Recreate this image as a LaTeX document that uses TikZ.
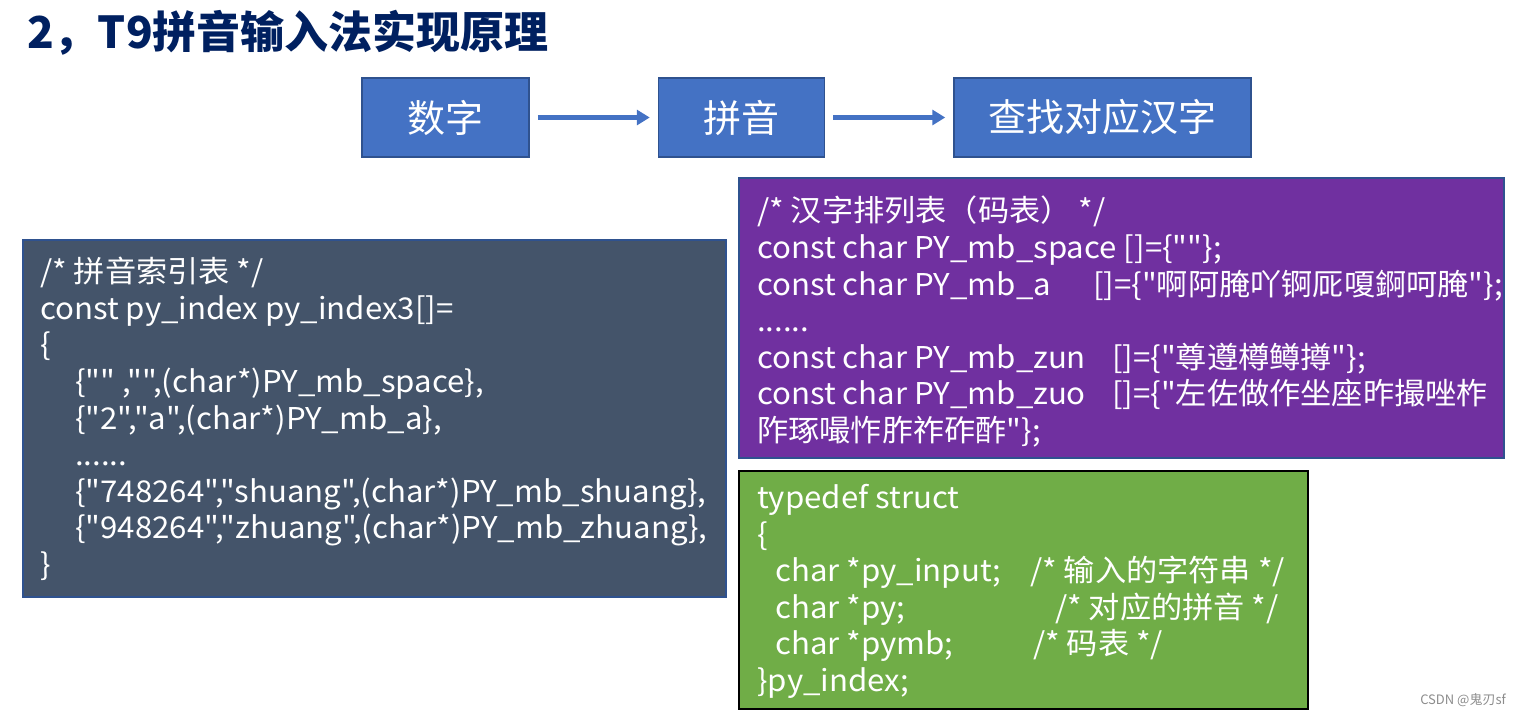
\documentclass[tikz,border=0pt]{standalone}
\usepackage{fontspec}
\setmainfont{Noto Sans CJK SC}[Ligatures=TeXOff]
\newfontfamily\codefont{Noto Sans CJK SC}[Ligatures=TeXOff,FakeStretch=1.04]
\usetikzlibrary{arrows.meta,positioning}
\definecolor{FlowBlue}{HTML}{4472C4}
\definecolor{EdgeBlue}{HTML}{2F528F}
\definecolor{SlateGrey}{HTML}{44546A}
\definecolor{CodePurple}{HTML}{7030A0}
\definecolor{CodeGreen}{HTML}{70AD47}
\definecolor{TitleNavy}{HTML}{002060}

\begin{document}
\begin{tikzpicture}[
    x=1pt, y=-1pt,
    flowbox/.style={rectangle,draw=EdgeBlue,fill=FlowBlue,line width=1.5pt,
      text=white,font=\fontsize{38}{40}\selectfont,minimum height=79pt,inner sep=0pt},
    panel/.style={rectangle,line width=1.5pt,inner sep=0pt},
    codetxt/.style={text=white,font=\codefont\fontsize{30}{36.6}\selectfont,
      align=left,inner sep=0pt,anchor=north west},
    flowarrow/.style={-{Triangle[length=13pt,width=15pt]},line width=4.5pt,
      draw=FlowBlue,shorten <=8pt,shorten >=8pt},
  ]
  \useasboundingbox (0,0) rectangle (1521,716);
  % Title
  \node[anchor=west,inner sep=0pt,text=TitleNavy,font=\fontsize{44}{46}\bfseries\selectfont]
    (title) at (27,33) {2，T9拼音输入法实现原理};
  % Flow row
  \node[flowbox,minimum width=167pt] (digits) at (445.5,117.5) {数字};
  \node[flowbox,minimum width=166pt,right=128pt of digits] (pinyin) {拼音};
  \node[flowbox,minimum width=297pt,right=128pt of pinyin] (lookup) {查找对应汉字};
  \draw[flowarrow] (digits) -- (pinyin);
  \draw[flowarrow] (pinyin) -- (lookup);
  % Index table
  \node[panel,draw=EdgeBlue,fill=SlateGrey,minimum width=703pt,minimum height=357pt]
    (idxbox) at (374.5,418.5) {};
  \node[codetxt] (idxtxt) at (40,257) {%
    /* 拼音索引表 */\\
    const py\_index py\_index3[]=\\
    \{\\
    \hspace*{35pt}\{"" ,"",(char*)PY\_mb\_space\},\\
    \hspace*{35pt}\{"2","a",(char*)PY\_mb\_a\},\\
    \hspace*{35pt}......\\
    \hspace*{35pt}\{"748264","shuang",(char*)PY\_mb\_shuang\},\\
    \hspace*{35pt}\{"948264","zhuang",(char*)PY\_mb\_zhuang\},\\
    \}};
  % Code table
  \node[panel,draw=EdgeBlue,fill=CodePurple,minimum width=765pt,minimum height=280pt]
    (mbbox) at (1121.5,318) {};
  \node[codetxt] (mbtxt) at (757,196) {%
    /* 汉字排列表（码表） */\\
    const char PY\_mb\_space []=\{""\};\\
    \makebox[336pt][l]{const char PY\_mb\_a}[]=\{"啊阿腌吖锕厑嗄錒呵腌"\};\\
    ......\\
    \makebox[355pt][l]{const char PY\_mb\_zun}[]=\{"尊遵樽鳟撙"\};\\
    \makebox[355pt][l]{const char PY\_mb\_zuo}[]=\{"左佐做作坐座昨撮唑柞\\
    阼琢嘬怍胙祚砟酢"\};};
  % Struct
  \node[panel,draw=black,fill=CodeGreen,minimum width=569pt,minimum height=238pt]
    (structbox) at (1023.5,590) {};
  \node[codetxt] (structtxt) at (757,484) {%
    typedef struct\\
    \{\\
    \hspace*{18pt}\makebox[255pt][l]{char *py\_input;}/* 输入的字符串 */\\
    \hspace*{18pt}\makebox[280pt][l]{char *py;}/* 对应的拼音 */\\
    \hspace*{18pt}\makebox[258pt][l]{char *pymb;}/* 码表 */\\
    \}py\_index;};
  % Watermark
  \node[anchor=east,inner sep=0pt,text=black!45,font=\fontsize{13}{15}\selectfont]
    (mark) at (1506,700) {CSDN @鬼刃sf};
\end{tikzpicture}
\end{document}
